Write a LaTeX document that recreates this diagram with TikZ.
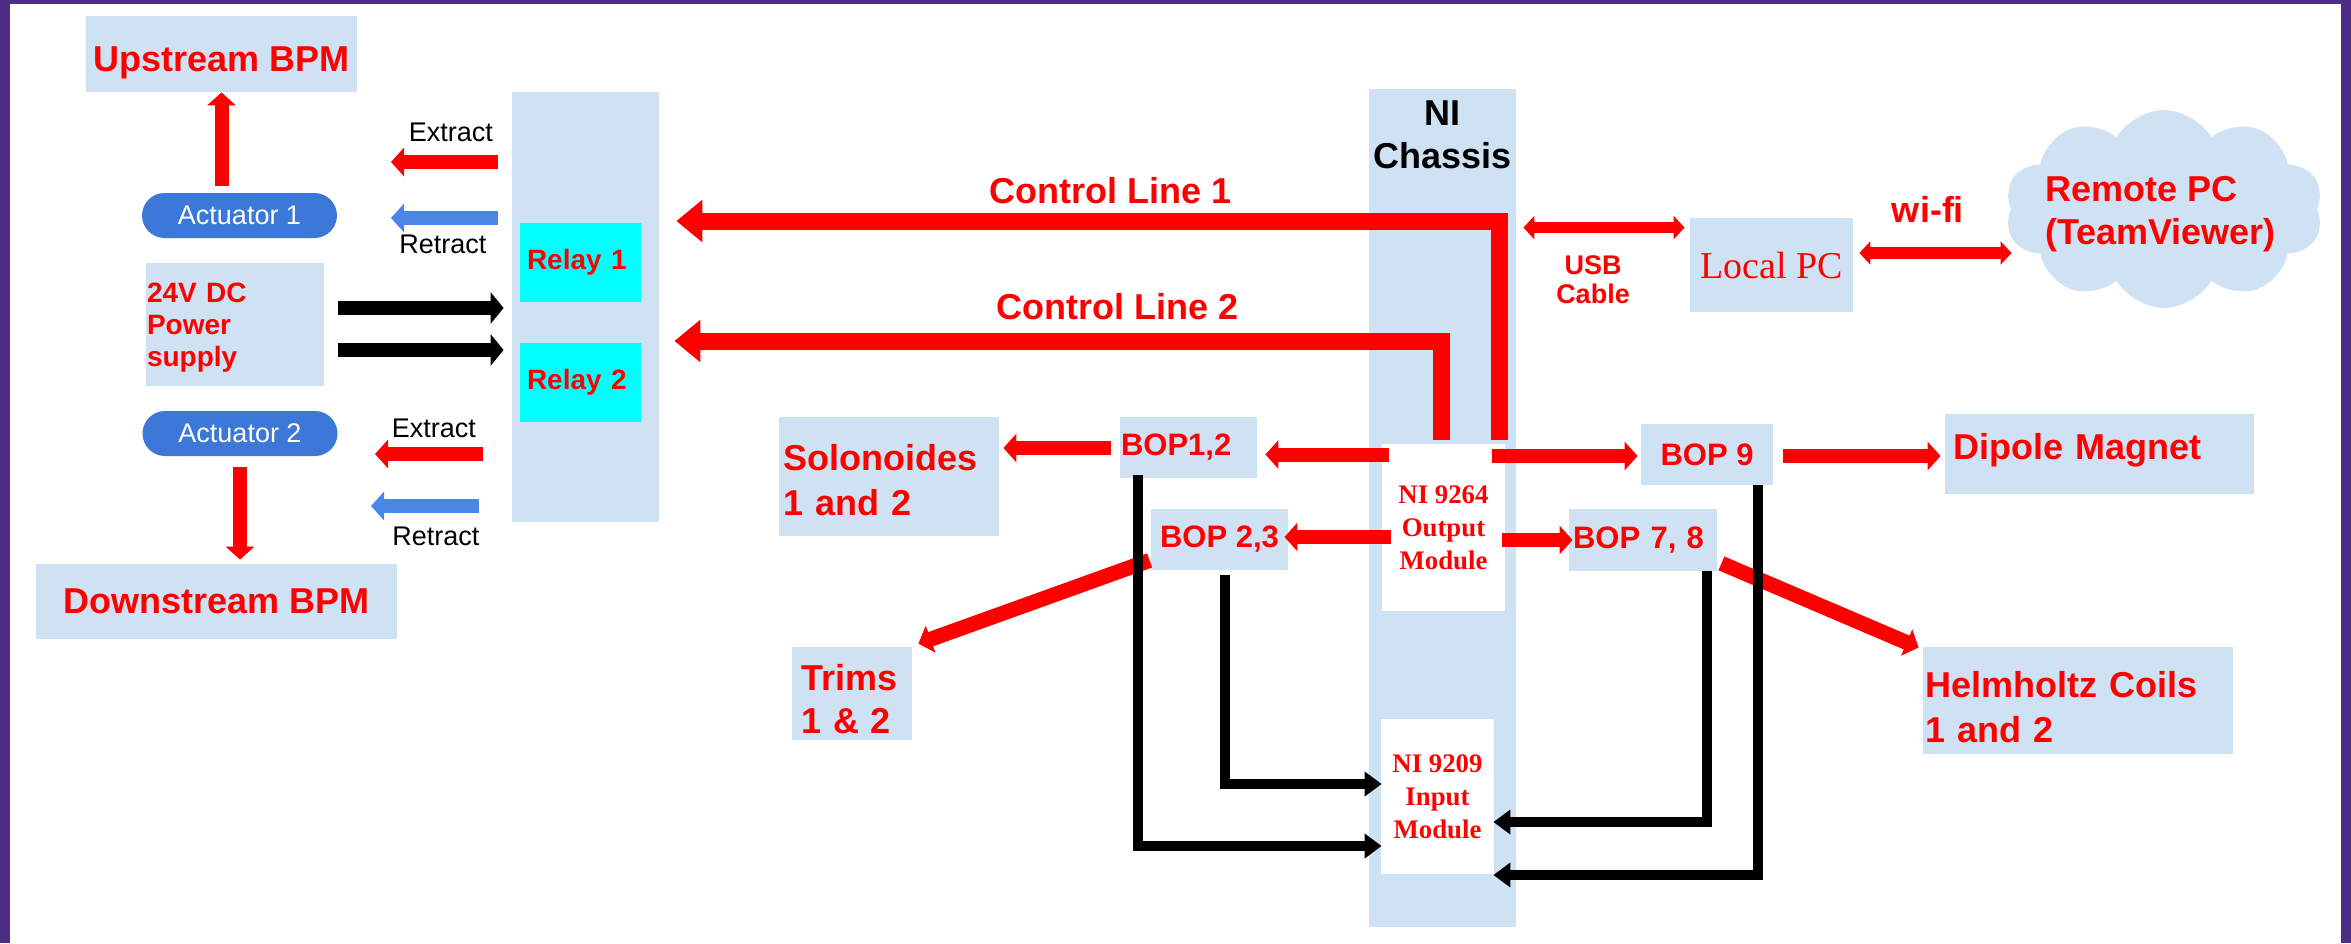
\documentclass[tikz,border=0pt]{standalone}
\usepackage{fontspec}
\setmainfont{Liberation Sans}
\newfontfamily\timesfont{Liberation Serif}
\usepackage{tikz}
\usetikzlibrary{shapes,arrows.meta,positioning,calc}

\definecolor{panelblue}{RGB}{207,226,243}
\definecolor{relaycyan}{RGB}{0,255,255}
\definecolor{actblue}{RGB}{60,120,216}
\definecolor{retblue}{RGB}{74,134,232}
\definecolor{arrred}{RGB}{255,0,0}
\definecolor{framepurple}{RGB}{77,45,132}

\tikzset{
    panel/.style={
        rectangle,                % caja plana
        fill=panelblue,           % azul muy claro de fondo
        inner sep=0pt             % sin margen, el tamaño lo fija minimum
    },
    namebox/.style={
        panel,
        text=red,                 % texto rojo
        font=\fontsize{18}{22.5}\selectfont\bfseries
    },
    bopbox/.style={
        panel,
        text=red,
        font=\fontsize{15.5}{18}\selectfont\bfseries,
        minimum height=30.5pt
    },
    relaybox/.style={
        rectangle,
        fill=relaycyan,           % cian puro
        text=red,
        font=\fontsize{14}{16.5}\selectfont\bfseries,
        text width=53.5pt,
        inner xsep=3.5pt,
        inner ysep=0pt,
        minimum height=39.5pt,
        align=left
    },
    actuator/.style={
        rounded rectangle,        % forma de pastilla
        fill=actblue,
        text=white,
        font=\fontsize{13.5}{16}\selectfont,
        minimum width=97.5pt,
        minimum height=22.5pt,
        inner sep=0pt
    },
    modulebox/.style={
        rectangle,
        fill=white,               % caja blanca sobre el chasis
        text=red,
        font=\timesfont\fontsize{13.4}{16.5}\selectfont\bfseries,
        align=center,
        inner sep=0pt
    },
    redlbl/.style={text=red, font=\fontsize{18}{21.5}\selectfont\bfseries, inner sep=0pt},
    blklbl/.style={text=black, font=\fontsize{13.5}{16}\selectfont, inner sep=0pt},
    redarrow/.style={draw=arrred, line width=7pt, -{Triangle[width=14pt,length=6.5pt]}},
    bluearrow/.style={draw=retblue, line width=7pt, -{Triangle[width=14pt,length=6.5pt]}},
    ctrlarrow/.style={draw=arrred, line width=8.5pt, -{Triangle[width=20.5pt,length=13pt]}},
    dblarrow/.style={draw=arrred, line width=5.75pt, {Triangle[width=11.5pt,length=5.5pt]}-{Triangle[width=11.5pt,length=5.5pt]}},
    blkarrow/.style={draw=black, line width=7pt, -{Triangle[width=15.5pt,length=6.5pt]}},
    blkline/.style={draw=black, line width=5pt, -{Triangle[width=12pt,length=8.5pt]}}
}

\begin{document}
\begin{tikzpicture}[x=0.5pt, y=-0.5pt, node distance=1cm]
    \useasboundingbox (0,0) rectangle (2351,943);
    % marco
    \fill[framepurple] (0,0) rectangle (10,943);
    \fill[framepurple] (0,0) rectangle (2351,4);
    \fill[framepurple] (2341,0) rectangle (2351,943);

    % lado izquierdo: BPM, actuadores y reles
    \node[namebox, minimum width=135.5pt, minimum height=38pt, text height=17pt, text depth=0pt] (upstream) at (221.5,54) {Upstream BPM};
    \node[actuator] (act1) at (239.5,215.5) {Actuator 1};
    \node[namebox, font=\fontsize{14}{16}\selectfont\bfseries, text width=88pt, inner xsep=0.5pt, minimum height=61.5pt, text height=12.4pt, align=left] (psu) at (235,324.5) {24V DC\\Power\\supply};
    \node[actuator] (act2) at (240,433.5) {Actuator 2};
    \node[namebox, minimum width=180.5pt, minimum height=37.5pt] (downstream) at (216.5,601.5) {Downstream BPM};
    \node[panel, minimum width=73.5pt, minimum height=215pt] (relays) at (585.5,307) {};
    \node[relaybox] (relay1) at (580.5,262.5) {Relay 1};
    \node[relaybox, below=20pt of relay1] (relay2) {Relay 2};

    % chasis NI y modulos
    \node[panel, minimum width=73.5pt, minimum height=419pt] (chassis) at (1442.5,508) {};
    \node[redlbl, text=black, align=center, below=6pt of chassis.north] (chassislbl) {NI\\Chassis};
    \node[modulebox, minimum width=61.5pt, minimum height=83.5pt] (ni9264) at (1443.5,527.5) {NI 9264\\Output\\Module};
    \node[modulebox, minimum width=56.5pt, minimum height=77.5pt] (ni9209) at (1437.5,796.5) {NI 9209\\Input\\Module};

    % fuentes BOP y cargas
    \node[bopbox, text width=67.5pt, inner xsep=0.5pt, align=left] (bop12) at (1188.5,447.5) {BOP1,2};
    \node[bopbox, minimum width=68.5pt] (bop23) at (1219.5,539.5) {BOP 2,3};
    \node[bopbox, minimum width=66pt] (bop9) at (1707,454.5) {BOP 9};
    \node[bopbox, text width=70pt, inner xsep=2pt, minimum height=31pt, align=left] (bop78) at (1643,540) {BOP 7, 8};
    \node[namebox, text width=106pt, inner xsep=2pt, minimum height=59.5pt, text height=17pt, align=left] (solen) at (889,476.5) {Solonoides\\1 and 2};
    \node[namebox, font=\fontsize{18}{21.5}\selectfont\bfseries, text width=51pt, inner xsep=4.5pt, minimum height=46.5pt, text height=19pt, align=left] (trims) at (852,693.5) {Trims\\1 \& 2};
    \node[namebox, text width=146.5pt, inner xsep=4pt, minimum height=40pt, text height=13pt, text depth=7.5pt, align=left] (dipole) at (2099.5,454) {Dipole Magnet};
    \node[namebox, text width=153pt, inner xsep=1pt, minimum height=53.5pt, text height=20pt, align=left] (helm) at (2078,700.5) {Helmholtz Coils\\1 and 2};

    % PC local y remoto
    \node[panel, text=red, font=\timesfont\fontsize{19}{22}\selectfont, minimum width=81.5pt, minimum height=47pt] (lpc) at (1771.5,265) {Local PC};
    \node[cloud, fill=panelblue, cloud puffs=10, cloud puff arc=120, aspect=1.6, cloud ignores aspect, minimum width=159pt, minimum height=99pt, inner sep=0pt] (remotecloud) at (2164,209) {};
    \node[redlbl, align=left] (remotepc) at (2160.5,214) {Remote PC\\(TeamViewer)};

    % extraer / retraer
    \coordinate (ext1tip) at (391,162);
    \coordinate (ret1tip) at (391,218);
    \coordinate (ext2tip) at (375,454);
    \coordinate (ret2tip) at (371,506);
    \draw[redarrow] ($(relays.west |- ext1tip)+(-14,0)$) -- (ext1tip) node[blklbl, midway, above=6.5pt, xshift=3.25pt] {Extract};
    \draw[bluearrow] ($(relays.west |- ret1tip)+(-14,0)$) -- (ret1tip) node[blklbl, midway, below=5pt, xshift=-0.75pt] {Retract};
    \draw[redarrow] ($(relays.west |- ext2tip)+(-29,0)$) -- (ext2tip) node[blklbl, midway, above=4.5pt, xshift=2.5pt] {Extract};
    \draw[bluearrow] ($(relays.west |- ret2tip)+(-33,0)$) -- (ret2tip) node[blklbl, midway, below=7pt, xshift=5.5pt] {Retract};

    \draw[redarrow] ($(upstream.south |- act1.north)+(0,-7)$) -- (upstream.south);
    \draw[redarrow] ($(act2.south)+(0,11)$) -- ($(act2.south |- downstream.north)+(0,-4)$);
    \draw[blkarrow] ($(psu.east |- relays.west)+(14,1)$) -- ($(relays.west)+(-8,1)$);
    \draw[blkarrow] ($(psu.east)+(14,25.5)$) -- ($(relays.west |- psu.east)+(-8,25.5)$);

    % lineas de control
    \draw[ctrlarrow] ($(ni9264.north)+(55.5,-4)$) |- ($(relays.east)+(17,-86)$) node[redlbl, pos=0.736, above=4.5pt] {Control Line 1};
    \draw[ctrlarrow] ($(ni9264.north)+(-2.5,-4)$) |- ($(relays.east)+(15,34)$) node[redlbl, pos=0.711, above=6.5pt] {Control Line 2};

    % salidas del NI 9264
    \draw[redarrow] ($(ni9264.west |- bop9.west)+(7,0)$) -- ($(bop12.east |- bop9.west)+(8,0)$);
    \draw[redarrow] ($(ni9264.west |- bop23.east)+(9,-2.5)$) -- ($(bop23.east)+(-4,-2.5)$);
    \draw[redarrow] ($(ni9264.east |- bop9.west)+(-13,1.5)$) -- ($(bop9.west)+(-3,1.5)$);
    \draw[redarrow] ($(ni9264.east |- bop78.west)+(-3,0)$) -- ($(bop78.west)+(4,0)$);

    \draw[redarrow] ($(bop12.west)+(-9,0.5)$) -- ($(solen.east |- bop12.west)+(4,0.5)$);
    \draw[redarrow] ($(bop9.east)+(10,1.5)$) -- ($(dipole.west |- bop9.east)+(-4,1.5)$);
    \draw[redarrow, line width=7.5pt] ($(bop23.south west)+(-1,-10)$) -- ($(trims.north east)+(6,-3)$);
    \draw[redarrow, line width=7.5pt] ($(bop78.south east)+(4,-8)$) -- ($(helm.north west)+(-4,1)$);

    \draw[dblarrow] ($(chassis.east |- lpc.north)+(7,10)$) -- ($(lpc.north west)+(-5,10)$) node[redlbl, font=\fontsize{13.5}{14.75}\selectfont\bfseries, align=center, midway, below=11pt, xshift=-5.5pt] {USB\\Cable};
    \draw[dblarrow] ($(lpc.east)+(6,-12)$) -- ($(lpc.east -| remotecloud.west)+(1,-12)$) node[redlbl, midway, above=12.5pt, xshift=-3.75pt] {wi-fi};

    % retornos al NI 9209
    \draw[blkline] ($(bop12.south)+(-50.5,-3)$) |- ($(ni9209.west)+(1,49.5)$);
    \draw[blkline] ($(bop23.south)+(5.5,5)$) |- ($(ni9209.west)+(1,-12.5)$);
    \draw[blkline] ($(bop78.south)+(64,0)$) |- ($(ni9209.east)+(-1,25.5)$);
    \draw[blkline] ($(bop9.south)+(51,0)$) |- ($(ni9209.east)+(-1,78.5)$);
\end{tikzpicture}
\end{document}
